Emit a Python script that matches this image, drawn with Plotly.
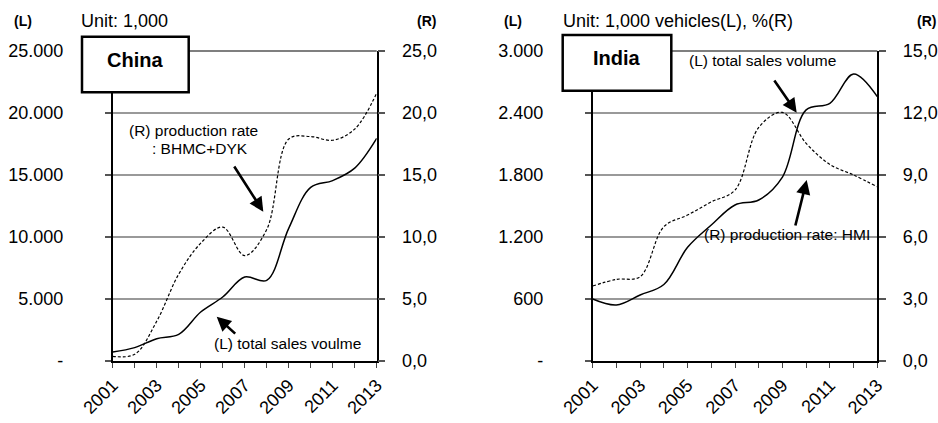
import plotly.graph_objects as go

# ---------------- data ----------------
years = list(range(2001, 2014))
year_labels = [str(y) if y % 2 == 1 else "" for y in years]

china_sales = [730, 1080, 1800, 2150, 3950, 5160, 6770, 6500, 10700, 14000, 14550, 15550, 17950]
china_prod = [0.38, 0.54, 3.2, 7.0, 9.5, 10.8, 8.5, 10.6, 17.9, 18.1, 17.8, 18.7, 21.6]

india_sales = [600, 542, 639, 740, 1100, 1316, 1510, 1558, 1780, 2430, 2494, 2777, 2558]
india_prod = [3.63, 3.95, 4.08, 6.5, 7.06, 7.7, 8.27, 11.3, 12.03, 10.53, 9.51, 9.0, 8.43]

china_left_ticks = [0, 5000, 10000, 15000, 20000, 25000]
china_left_text = ["-", "5.000", "10.000", "15.000", "20.000", "25.000"]
china_right_ticks = [0, 5, 10, 15, 20, 25]
china_right_text = ["0,0", "5,0", "10,0", "15,0", "20,0", "25,0"]

india_left_ticks = [0, 600, 1200, 1800, 2400, 3000]
india_left_text = ["-", "600", "1.200", "1.800", "2.400", "3.000"]
india_right_ticks = [0, 3, 6, 9, 12, 15]
india_right_text = ["0,0", "3,0", "6,0", "9,0", "12,0", "15,0"]

# ---------------- layout helpers ----------------
W, H = 938, 423
FONT = "Liberation Sans, Arial, sans-serif"


def px(x):
    return x / W


def py(y):
    return 1 - y / H


Y_DOM = [py(361), py(51)]
C_DOM = [px(112.7), px(376.7)]
I_DOM = [px(592.7), px(877.3)]

fig = go.Figure()

solid = dict(color="black", width=1.5, shape="spline", smoothing=1)
dashed = dict(color="black", width=1.2, shape="spline", smoothing=1, dash="3px,2px")

fig.add_trace(go.Scatter(x=years, y=china_sales, mode="lines", line=solid, xaxis="x", yaxis="y",
                         name="China total sales"))
fig.add_trace(go.Scatter(x=years, y=china_prod, mode="lines", line=dashed, xaxis="x", yaxis="y2",
                         name="China production rate"))
fig.add_trace(go.Scatter(x=years, y=india_sales, mode="lines", line=solid, xaxis="x2", yaxis="y3",
                         name="India total sales"))
fig.add_trace(go.Scatter(x=years, y=india_prod, mode="lines", line=dashed, xaxis="x2", yaxis="y4",
                         name="India production rate"))

tickfont = dict(family=FONT, size=18, color="black")


def xaxis(domain, anchor):
    return dict(domain=domain, anchor=anchor, range=[2001, 2013], tickmode="array",
                tickvals=years, ticktext=year_labels, tickangle=-45, ticks="outside",
                ticklen=5, tickwidth=1.2, tickcolor="#444", showline=True, linecolor="black",
                linewidth=1.5, showgrid=False, zeroline=False, tickfont=tickfont,
                automargin=False)


def yleft(domain, anchor, rng, tv, tt):
    return dict(domain=domain, anchor=anchor, range=rng, tickmode="array", tickvals=tv,
                ticktext=tt, ticks="outside", ticklen=6, tickwidth=1.5, tickcolor="#555",
                showline=True, linecolor="black", linewidth=1.5, showgrid=True,
                gridcolor="#999999", gridwidth=2, zeroline=False, tickfont=tickfont,
                ticklabelstandoff=38, automargin=False)


def yright(overlay, anchor, rng, tv, tt):
    return dict(overlaying=overlay, anchor=anchor, side="right", range=rng, tickmode="array",
                tickvals=tv, ticktext=tt, ticks="outside", ticklen=7, tickwidth=1.5,
                tickcolor="#555", showline=True, linecolor="black", linewidth=1.5,
                showgrid=False, zeroline=False, tickfont=tickfont, ticklabelstandoff=13,
                automargin=False)


fig.update_layout(
    width=W, height=H, margin=dict(l=0, r=0, t=0, b=0, autoexpand=False), showlegend=False,
    plot_bgcolor="white", paper_bgcolor="white",
    font=dict(family=FONT, color="black"),
    xaxis=xaxis(C_DOM, "y"),
    yaxis=yleft(Y_DOM, "x", [0, 25000], china_left_ticks, china_left_text),
    yaxis2=yright("y", "x", [0, 25], china_right_ticks, china_right_text),
    xaxis2=xaxis(I_DOM, "y3"),
    yaxis3=yleft(Y_DOM, "x2", [0, 3000], india_left_ticks, india_left_text),
    yaxis4=yright("y3", "x2", [0, 15], india_right_ticks, india_right_text),
)

# darker top border line of each plot area
for xr, yr in (("x domain", "y domain"), ("x2 domain", "y3 domain")):
    fig.add_shape(type="line", xref=xr, yref=yr, x0=0, x1=1, y0=1, y1=1,
                  line=dict(color="#555555", width=1.6), layer="below")

# title boxes
fig.add_shape(type="rect", xref="paper", yref="paper", x0=px(82), x1=px(188.7), y0=py(92.3),
              y1=py(36.7), line=dict(color="black", width=2.5), fillcolor="white", layer="above")
fig.add_shape(type="rect", xref="paper", yref="paper", x0=px(562.7), x1=px(671.3), y0=py(90.7),
              y1=py(35), line=dict(color="black", width=2.5), fillcolor="white", layer="above")


def text(x, y, s, size=15.5, bold=False, xanchor="left"):
    fig.add_annotation(xref="paper", yref="paper", x=px(x), y=py(y), text=f"<b>{s}</b>" if bold else s,
                       showarrow=False, xanchor=xanchor, yanchor="middle",
                       font=dict(family=FONT, size=size, color="black"))


def arrow(hx, hy, tx, ty):
    fig.add_annotation(xref="paper", yref="paper", x=px(hx), y=py(hy), ax=tx - hx, ay=ty - hy,
                       text="", showarrow=True, arrowhead=2, arrowsize=1.1, arrowwidth=2.6,
                       arrowcolor="black", standoff=0)


# China panel texts
text(12, 21, "(L)", size=14, bold=True)
text(79, 21, "Unit: 1,000", size=18)
text(415, 21, "(R)", size=14, bold=True)
text(135.3, 60, "China", size=20, bold=True, xanchor="center")
text(127, 130, "(R) production rate")
text(150, 148, ": BHMC+DYK")
arrow(263.3, 211.7, 233.3, 165)
text(211.7, 343, "(L) total sales voulme")
arrow(216.7, 316.7, 236.7, 335)

# India panel texts
text(502, 21, "(L)", size=14, bold=True)
text(561, 21, "Unit: 1,000 vehicles(L), %(R)", size=18)
text(915, 21, "(R)", size=14, bold=True)
text(617, 58, "India", size=20, bold=True, xanchor="center")
text(686.7, 61, "(L) total sales volume")
arrow(796.7, 112.7, 773.3, 79)
text(701.7, 234, "(R) production rate: HMI")
arrow(806.7, 180, 795, 227)

fig.write_html("out.html", config={"displayModeBar": False},
               post_script="document.body.style.margin='0';document.body.style.overflow='hidden';")
